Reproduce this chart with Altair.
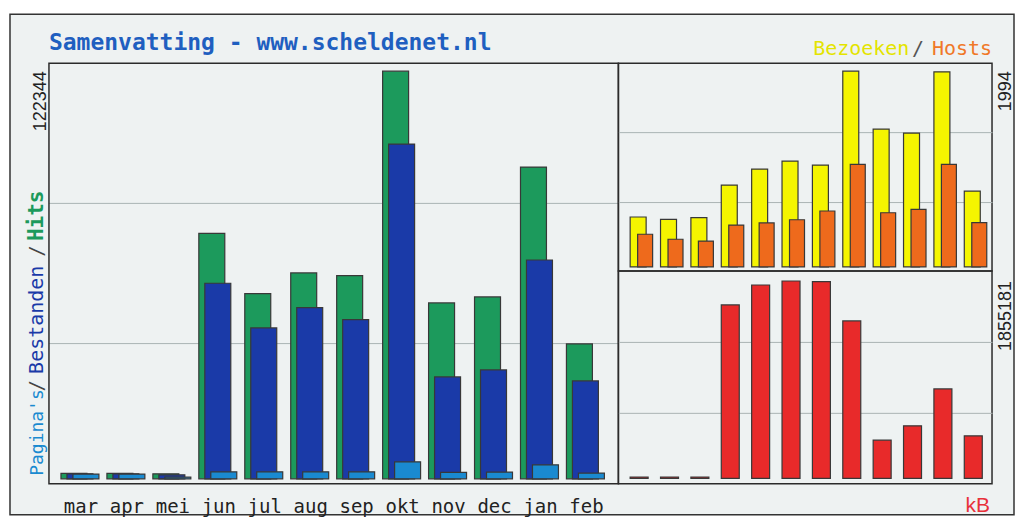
import altair as alt
import pandas as pd

# ---------------- data ----------------
months = ["mar", "apr", "mei", "jun", "jul", "aug", "sep", "okt", "nov", "dec", "jan", "feb"]
hits   = [1600, 1600, 1500, 73690, 55570, 61780, 60970, 122344, 52780, 54580, 93570, 40490]
files  = [1500, 1500, 1200, 58690, 45280, 51370, 47770, 100470, 30590, 32690, 65680, 29390]
pages  = [1400, 1400, 500, 2100, 2100, 2100, 2100, 5100, 1900, 2000, 4200, 1700]
visits = [509, 485, 502, 834, 997, 1078, 1038, 1994, 1404, 1363, 1987, 773]
sites  = [333, 282, 264, 427, 448, 481, 570, 1045, 552, 587, 1045, 451]
kbytes = [12000, 12000, 12000, 1629700, 1817600, 1855181, 1850000, 1479400, 358800, 493100, 840700, 399200]

title_text = "Samenvatting - www.scheldenet.nl"
max_hits_label = "122344"
max_visits_label = "1994"
max_kb_label = "1855181"

df = pd.DataFrame({"month": months, "hits": hits, "files": files, "pages": pages,
                   "visits": visits, "sites": sites, "kbytes": kbytes})
one = pd.DataFrame({"k": [0]})

# ---------------- styles ----------------
C_HITS, C_FILES, C_PAGES = "#1c9a5c", "#1a3aa8", "#1a8ad0"
C_VIS, C_SITES, C_KB = "#f5f500", "#ee6a1c", "#e82a2a"
STROKE = "#383838"
GRID = "#aab4b4"
BG = "#eef2f2"
MONO = "DejaVu Sans Mono"
SANS = "Liberation Sans"

def grid_axis(lo, hi):
    return alt.Axis(values=[lo + (hi - lo) / 3, lo + 2 * (hi - lo) / 3], grid=True,
                    labels=False, ticks=False, domain=False, title=None,
                    gridColor=GRID, gridWidth=1)

# ---------------- left panel ----------------
LW, LH = 570, 421
llo, lhi = -1500, 124750
xL = alt.X("month:N", sort=months, axis=None, scale=alt.Scale(paddingInner=0, paddingOuter=0.196))
yL_scale = alt.Scale(domain=[llo, lhi], nice=False, zero=False)

def lbar(field, color, off):
    return alt.Chart(df).mark_bar(width=26, xOffset=off, color=color, stroke=STROKE, strokeWidth=1.2).encode(
        x=xL,
        y=alt.Y(f"{field}:Q", scale=yL_scale, axis=None),
    )

frame = alt.Chart(one).mark_rect(fill=BG, stroke="#333333", strokeWidth=1.5).encode(
    x=alt.value(-39), x2=alt.value(966), y=alt.value(-49), y2=alt.value(452))

gridL = alt.Chart(pd.DataFrame({"g": [llo + (lhi - llo) / 3, llo + 2 * (lhi - llo) / 3]})).mark_rule(
    color=GRID, strokeWidth=1).encode(
    y=alt.Y("g:Q", scale=yL_scale, axis=None), x=alt.value(0), x2=alt.value(LW))

borderL = alt.Chart(one).mark_rect(fillOpacity=0, stroke="#2b2b2b", strokeWidth=1.5).encode(
    x=alt.value(0), x2=alt.value(LW), y=alt.value(0), y2=alt.value(LH))

def txt(text, x, y, color, font=MONO, size=19, angle=0, align="left", weight="normal"):
    return alt.Chart(one).mark_text(font=font, fontSize=size, angle=angle, align=align,
                                    baseline="alphabetic", color=color, fontWeight=weight).encode(
        x=alt.value(x), y=alt.value(y), text=alt.value(text))

month_lbl = alt.Chart(df).mark_text(font=MONO, fontSize=19, baseline="alphabetic", color="#222222").encode(
    x=xL, y=alt.value(450), text="month:N")

left = alt.layer(
    frame,
    gridL,
    lbar("hits", C_HITS, -7),
    lbar("files", C_FILES, -1),
    lbar("pages", C_PAGES, 5),
    borderL,
    month_lbl,
    txt(title_text, 0, -13, "#1f5fc0", size=23, weight="bold"),
    txt("Pagina's", -6, 413, C_PAGES, size=18, angle=270),
    txt("/", -6, 323, "#444444", size=19, angle=270, align="center"),
    txt("Bestanden", -6, 311, C_FILES, size=20, angle=270),
    txt("/", -6, 188, "#444444", size=19, angle=270, align="center"),
    txt("Hits", -6, 178, C_HITS, size=21, angle=270, weight="bold"),
    txt(max_hits_label, -3, 68, "#222222", font=SANS, size=18, angle=270),
).properties(width=LW, height=LH)

# ---------------- right panels ----------------
RW = 374
xR = alt.X("month:N", sort=months, axis=None, scale=alt.Scale(paddingInner=0, paddingOuter=0.15))

TH = 208
tlo, thi = -41, 2075
def tbar(field, color, off, w):
    return alt.Chart(df).mark_bar(width=w, xOffset=off, color=color, stroke=STROKE, strokeWidth=1.2).encode(
        x=xR,
        y=alt.Y(f"{field}:Q", scale=alt.Scale(domain=[tlo, thi], nice=False, zero=False), axis=grid_axis(tlo, thi)),
    )

top = alt.layer(
    tbar("visits", C_VIS, 0, 16),
    tbar("sites", C_SITES, 7, 15),
    txt("Bezoeken", 195, -8, "#e4e400", size=20),
    txt("/", 300, -8, "#555555", size=20, align="center"),
    txt("Hosts", 374, -8, "#f07828", size=20, align="right"),
    txt(max_visits_label, 393, 48, "#222222", font=SANS, size=18, angle=270),
).properties(width=RW, height=TH)

BH = 213
blo, bhi = -51663, 1949111
bottom = alt.layer(
    alt.Chart(df).mark_bar(width=18, xOffset=1, color=C_KB, stroke=STROKE, strokeWidth=1.2).encode(
        x=xR,
        y=alt.Y("kbytes:Q", scale=alt.Scale(domain=[blo, bhi], nice=False, zero=False), axis=grid_axis(blo, bhi)),
    ),
    txt(max_kb_label, 393, 80, "#222222", font=SANS, size=18, angle=270),
    txt("kB", 372, 241, "#e8303a", font=SANS, size=21, align="right"),
).properties(width=RW, height=BH)

right = alt.vconcat(top, bottom, spacing=0, bounds="flush")

chart = alt.hconcat(left, right, spacing=0, bounds="flush").properties(
    padding={"left": 0, "top": 4, "right": 0, "bottom": 0},
    background="white",
).configure_view(stroke="#2b2b2b", strokeWidth=1.5)

chart.save("out.html", embed_options={"renderer": "svg", "actions": False})
